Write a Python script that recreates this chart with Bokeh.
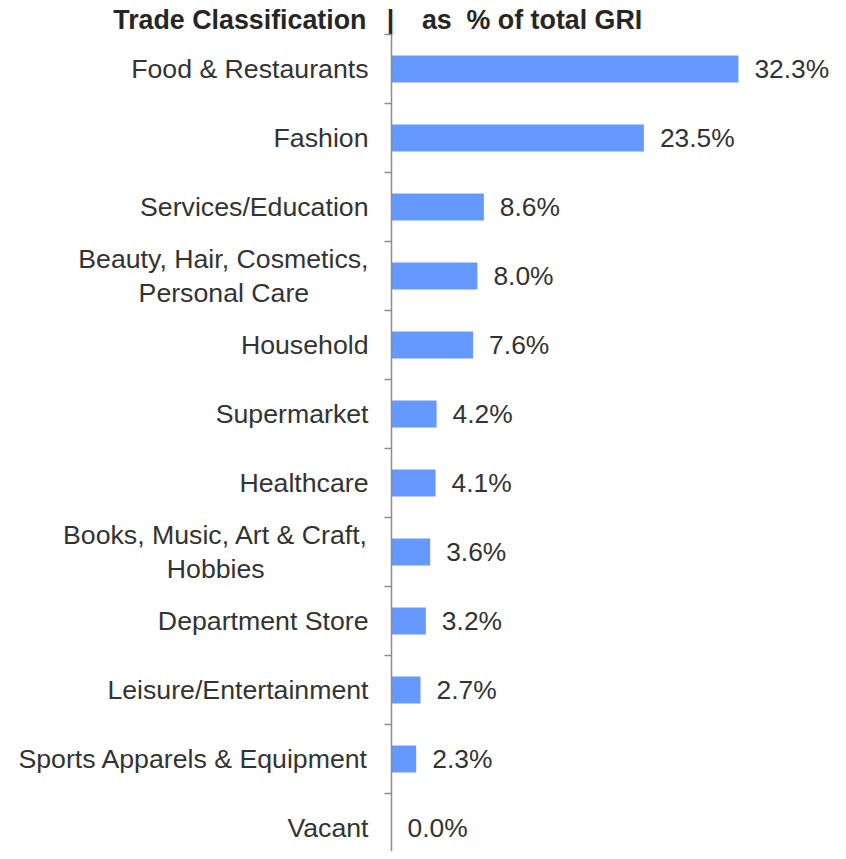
from bokeh.plotting import figure
from bokeh.models import Range1d, FixedTicker, ColumnDataSource
from bokeh.core.properties import value
from bokeh.embed import file_html
from bokeh.resources import INLINE

NB = "\u00a0"
TH = "\u2009"
categories = ["Food & Restaurants", "Fashion", "Services/Education",
              "Beauty, Hair, Cosmetics,\nPersonal Care", "Household", "Supermarket",
              "Healthcare", "Books, Music, Art & Craft,\nHobbies", "Department Store",
              "Leisure/Entertainment", "Sports Apparels & Equipment", "Vacant"]
shares = [32.3, 23.5, 8.6, 8.0, 7.6, 4.2, 4.1, 3.6, 3.2, 2.7, 2.3, 0.0]
share_labels = ["%.1f%%" % v for v in shares]
header_left = "Trade Classification"
header_sep = "|"
header_right = "as" + NB + NB + "% of total GRI"
header = (header_left + NB * 2 + TH + header_sep + NB * 3 + TH
          + header_right + NB * 4)

# pad the second line of the two-line labels so that the lines look centred
pad = {3: 8, 7: 14}
axis_labels = []
for i, c in enumerate(categories):
    if i in pad:
        a, b = c.split("\n")
        c = a + "\n" + b + NB * pad[i]
    axis_labels.append(c)

n = len(categories)
centers = [i + 0.5 for i in range(n)]
src = ColumnDataSource(dict(y=centers, v=shares, lab=share_labels))

W = 830
H = 851
TOP = 34
LEFT = 391
PX = 10.74  # pixels per percent
CAT = 69    # pixels per category
header_center = 1.15 / PX

p = figure(width=W, height=H, output_backend="svg", toolbar_location=None,
           x_range=Range1d(0, (W - LEFT) / PX), y_range=Range1d((H - TOP) / CAT, 0),
           x_axis_location="above",
           min_border_left=LEFT, min_border_right=0, min_border_top=TOP,
           min_border_bottom=0, outline_line_color=None, tools="")
p.grid.visible = False

p.hbar(y="y", right="v", left=0, height=0.39, source=src,
       fill_color="#6699FF", line_color=None)
p.text(x="v", y="y", text="lab", source=src, x_offset=16,
       text_baseline="middle", text_align="left",
       text_font=value("Liberation Sans"), text_font_size="26.4px",
       text_color="#333333")

# header as the label of the top axis
xa = p.xaxis[0]
xa.ticker = FixedTicker(ticks=[header_center], minor_ticks=[])
xa.major_label_overrides = {header_center: header}
xa.axis_line_color = None
xa.major_tick_line_color = None
xa.minor_tick_line_color = None
xa.major_tick_out = 0
xa.major_tick_in = 0
xa.major_label_standoff = 0
xa.major_label_text_font = "Liberation Sans"
xa.major_label_text_font_style = "bold"
xa.major_label_text_font_size = "26.8px"
xa.major_label_text_color = "#262626"

ax = p.yaxis[0]
ax.ticker = FixedTicker(ticks=centers, minor_ticks=list(range(n + 1)))
ax.major_label_overrides = {c: lab for c, lab in zip(centers, axis_labels)}
ax.major_tick_line_color = None
ax.major_tick_out = 0
ax.major_tick_in = 0
ax.minor_tick_line_color = "#8c8c8c"
ax.minor_tick_line_width = 1.5
ax.minor_tick_out = 7
ax.minor_tick_in = 0
ax.axis_line_color = "#8c8c8c"
ax.axis_line_width = 1.5
ax.major_label_standoff = 16
ax.major_label_text_font = "Liberation Sans"
ax.major_label_text_font_size = "26.7px"
ax.major_label_text_color = "#333333"
ax.major_label_text_line_height = 1.12

open("out.html", "w").write(file_html(p, INLINE))
